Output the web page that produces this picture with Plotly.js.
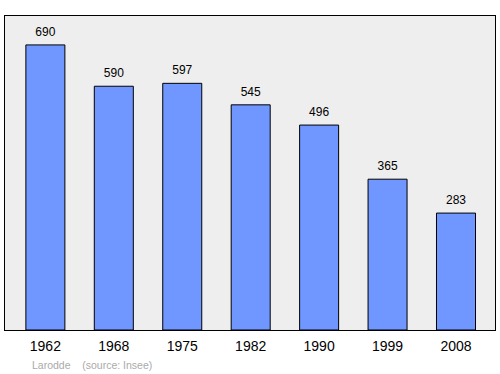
<!DOCTYPE html>
<html><head><meta charset="utf-8">
<script src="https://cdn.plot.ly/plotly-3.0.1.min.js"></script>
<style>body{margin:0;background:#fff}#c{width:500px;height:374px}</style>
</head><body><div id="c"></div>
<script>
const years = ["1962","1968","1975","1982","1990","1999","2008"];
const population = [690,590,597,545,496,365,283];
const sourceText = "Larodde    (source: Insee)";
const FONT = "Liberation Sans, Arial, sans-serif";

const bars = {
  type: "bar", x: years, y: population, width: 0.57,
  marker: {color: "rgb(112,150,255)", line: {color: "#000", width: 1}},
  hoverinfo: "none"
};
const labels = {
  type: "scatter", mode: "markers+text", x: years, y: population,
  text: population.map(String), textposition: "top center",
  marker: {size: 8, color: "rgba(0,0,0,0)"},
  textfont: {family: FONT, size: 12, color: "#000"},
  cliponaxis: false, hoverinfo: "none"
};
const layout = {
  width: 500, height: 374,
  margin: {l: 5, r: 5, t: 16, b: 44},
  paper_bgcolor: "#fff", plot_bgcolor: "#eeeeee",
  showlegend: false,
  xaxis: {type: "category", range: [-0.59, 6.57], showgrid: false, zeroline: false,
    showline: true, mirror: true, linecolor: "#000", linewidth: 1, ticks: "",
    ticklabelstandoff: 3,
    tickfont: {family: FONT, size: 14, color: "#000"}},
  yaxis: {range: [0, 760], showgrid: false, zeroline: false, showticklabels: false,
    showline: true, mirror: true, linecolor: "#000", linewidth: 1, ticks: ""},
  annotations: [{
    xref: "paper", yref: "paper", x: 0.05, y: -0.085, xanchor: "left", yanchor: "top",
    text: sourceText, showarrow: false,
    font: {family: FONT, size: 10.5, color: "#aaa"}
  }]
};
Plotly.newPlot("c", [bars, labels], layout, {staticPlot: true});
</script></body></html>
